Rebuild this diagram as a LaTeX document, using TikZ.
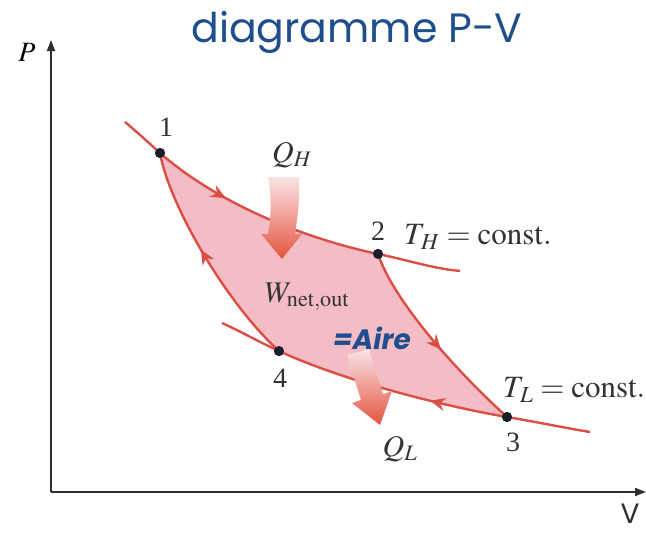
\documentclass[tikz,border=0pt]{standalone}
\usepackage{mathptmx}
\usepackage[no-math]{fontspec}
\setmainfont{Liberation Serif}
\newfontfamily\comicfont{Poppins}
\usepackage{tikz}
\usetikzlibrary{arrows.meta,decorations.markings}
\definecolor{cycred}{RGB}{218,78,70}
\definecolor{cycpink}{RGB}{244,188,196}
\definecolor{qpale}{RGB}{250,228,230}
\definecolor{qred}{RGB}{228,84,64}
\definecolor{titleblue}{RGB}{31,78,140}
\definecolor{dotblack}{RGB}{25,30,45}
\definecolor{axisgray}{RGB}{45,45,50}

\begin{document}
\begin{tikzpicture}[
  x=1pt, y=-1pt,
  pt/.style={circle, fill=dotblack, inner sep=0pt, minimum size=10pt},
  lbl/.style={font=\fontsize{28}{30}\selectfont, text=black!80, inner sep=1pt},
  iso/.style={draw=cycred, line width=2.4pt},
  flow/.style={postaction={decorate}, decoration={markings,
    mark=at position #1 with {\arrow{Stealth[length=15pt,width=13pt]}}}},
  axis/.style={draw=axisgray, line width=1.8pt, -{Triangle[length=11pt,width=8pt]}}
]
  \useasboundingbox (0,0) rectangle (646,533);

  \node[font=\comicfont\fontsize{41}{45}\selectfont, text=titleblue] (title) at (357,32) {diagramme P-V};

  \coordinate (o) at (51,492);
  \coordinate (ptop) at (51,40);
  \coordinate (vend) at (646,492);
  \draw[axis] (o) -- (ptop);
  \draw[axis] (o) -- (vend);
  \node[font=\fontsize{28}{30}\selectfont] (plab) at (27,52) {$P$};
  \node[font=\comicfont\fontsize{28}{30}\selectfont, text=axisgray, inner sep=1pt] (vlab) at (630,514) {V};

  \node[pt] (p1) at (160,153) {};
  \node[pt] (p2) at (378,254) {};
  \node[pt] (p3) at (507,417) {};
  \node[pt] (p4) at (279,351) {};
  \coordinate (h1) at (125,122);
  \coordinate (h2) at (460,271);
  \coordinate (l1) at (222,323);
  \coordinate (l2) at (590,432);

  \fill[cycpink] (p1.center) .. controls +(55,48) and +(-80,-17) .. (p2.center)
    .. controls +(15,45) and +(-55,-50) .. (p3.center)
    .. controls +(-70,-12) and +(60,28) .. (p4.center)
    .. controls +(-50,-45) and +(10,55) .. (p1.center) -- cycle;

  \draw[iso] (h1) .. controls +(12,10) and +(-12,-11) .. (p1.center);
  \draw[iso] (p2.center) .. controls +(30,6) and +(-30,-3) .. (h2);
  \draw[iso] (l1) .. controls +(20,9) and +(-20,-9) .. (p4.center);
  \draw[iso] (p3.center) .. controls +(30,5) and +(-30,-5) .. (l2);
  \draw[iso, flow=0.33] (p1.center) .. controls +(55,48) and +(-80,-17) .. (p2.center);
  \draw[iso, flow=0.55] (p2.center) .. controls +(15,45) and +(-55,-50) .. (p3.center);
  \draw[iso, flow=0.33] (p3.center) .. controls +(-70,-12) and +(60,28) .. (p4.center);
  \draw[iso, flow=0.55] (p4.center) .. controls +(-50,-45) and +(10,55) .. (p1.center);

  \shade[top color=qpale, bottom color=qred] (268,177) .. controls (272,200) and (271,218) .. (268,234)
    -- (261,234) -- (282,259) -- (302,234) -- (295,234) .. controls (298,214) and (300,196) .. (299,177) -- cycle;
  \shade[top color=qpale, bottom color=qred] (347,355) -- (361,400) -- (352,403) -- (380,425)
    -- (392,391) -- (383,394) -- (369,349) -- cycle;

  \node[pt] at (p1) {};
  \node[pt] at (p2) {};
  \node[pt] at (p3) {};
  \node[pt] at (p4) {};

  \node[lbl] (n1) at (166,127) {1};
  \node[lbl] (n2) at (378,231) {2};
  \node[lbl] (n3) at (513,442) {3};
  \node[lbl] (n4) at (280,378) {4};
  \node[lbl, font=\fontsize{30}{32}\selectfont] (qh) at (292,155) {$Q_H$};
  \node[lbl, font=\fontsize{30}{32}\selectfont] (ql) at (400,449) {$Q_L$};
  \node[lbl, anchor=west, font=\fontsize{31}{33}\selectfont] (th) at (403,237) {$T_{\kern2pt H} = \mathrm{const.}$};
  \node[lbl, anchor=west, font=\fontsize{31}{33}\selectfont] (tl) at (502,390) {$T_{\kern2pt L} = \mathrm{const.}$};
  \node[lbl, font=\fontsize{30}{32}\selectfont] (wnet) at (307,297) {$W_{\mathrm{net,out}}$};
  \node[font=\comicfont\bfseries\itshape\fontsize{28}{30}\selectfont, text=titleblue] (aire) at (372,338) {=Aire};
\end{tikzpicture}
\end{document}
